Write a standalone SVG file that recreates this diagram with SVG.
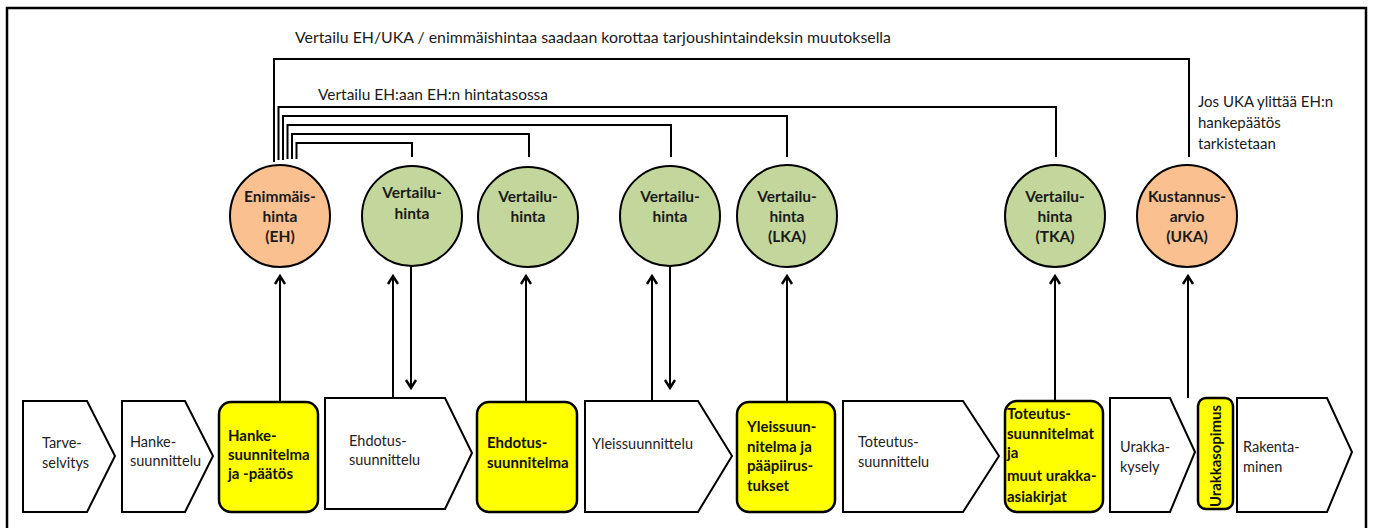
<svg xmlns="http://www.w3.org/2000/svg" width="1374" height="528" viewBox="0 0 1374 528">
<defs>
<style>
.frame{fill:none;stroke:#000;stroke-width:2.5}
.line{fill:none;stroke:#000;stroke-width:2}
.arrow{fill:none;stroke:#000;stroke-width:2;marker-end:url(#ah)}
.orange{fill:#FAC090;stroke:#000;stroke-width:2}
.green{fill:#C3D69B;stroke:#000;stroke-width:2}
.step{fill:#fff;stroke:#000;stroke-width:2;stroke-linejoin:miter}
.yel{fill:#FFFF00;stroke:#000;stroke-width:2.5}
.ct{font-family:Lato,"Liberation Sans",sans-serif;font-size:15.5px;font-weight:bold;fill:#1a1a1a;text-anchor:middle}
.bt{font-family:Lato,"Liberation Sans",sans-serif;font-size:15px;font-weight:bold;fill:#111}
.st{font-family:Lato,"Liberation Sans",sans-serif;font-size:14.5px;fill:#222}
.lab{font-family:Lato,"Liberation Sans",sans-serif;font-size:15px;fill:#1a1a1a}
</style>
<marker id="ah" viewBox="0 0 14 14" refX="10" refY="7" markerWidth="14" markerHeight="14" markerUnits="userSpaceOnUse" orient="auto">
<path d="M2,2 L10,7 L2,12" fill="none" stroke="#000" stroke-width="2.4"/>
</marker>
</defs>
<rect x="0" y="0" width="1374" height="528" fill="#fff"/>
<rect class="frame" x="7" y="8" width="1359" height="540"/>

<g id="labels">
<text class="lab" x="295" y="43" textLength="596" lengthAdjust="spacingAndGlyphs">Vertailu EH/UKA / enimmäishintaa saadaan korottaa tarjoushintaindeksin muutoksella</text>
<text class="lab" x="318" y="100" textLength="230" lengthAdjust="spacingAndGlyphs">Vertailu EH:aan EH:n hintatasossa</text>
<text class="lab" x="1198" y="107" font-size="14">Jos UKA ylittää EH:n</text>
<text class="lab" x="1198" y="128" font-size="14">hankepäätös</text>
<text class="lab" x="1198" y="149" font-size="14">tarkistetaan</text>
</g>

<g id="connectors">
<polyline class="line" points="274,162 274,59 1189,59 1189,157"/>
<polyline class="line" points="278.5,160 278.5,107 1056,107 1056,157"/>
<polyline class="line" points="283,160 283,116 787,116 787,157"/>
<polyline class="line" points="287.5,159 287.5,125 671,125 671,157"/>
<polyline class="line" points="292,159 292,134 529,134 529,157"/>
<polyline class="line" points="296.5,159 296.5,143 412,143 412,157"/>
<line class="arrow" x1="280" y1="401" x2="280" y2="276"/>
<line class="arrow" x1="393" y1="398" x2="393" y2="276"/>
<line class="arrow" x1="411" y1="266" x2="411" y2="388"/>
<line class="arrow" x1="526" y1="402" x2="526" y2="276"/>
<line class="arrow" x1="652" y1="401" x2="652" y2="276"/>
<line class="arrow" x1="670" y1="266" x2="670" y2="388"/>
<line class="arrow" x1="787" y1="402" x2="787" y2="276"/>
<line class="arrow" x1="1055" y1="401" x2="1055" y2="276"/>
<line class="arrow" x1="1188" y1="398" x2="1188" y2="276"/>
</g>

<g id="c-eh"><ellipse class="orange" cx="280" cy="216" rx="50" ry="51"/>
<text class="ct" x="280" y="202">Enimmäis-</text><text class="ct" x="280" y="222">hinta</text><text class="ct" x="280" y="242">(EH)</text></g>
<g id="c-v1"><ellipse class="green" cx="412" cy="216" rx="50" ry="50"/>
<text class="ct" x="412" y="198">Vertailu-</text><text class="ct" x="412" y="219">hinta</text></g>
<g id="c-v2"><ellipse class="green" cx="528" cy="217" rx="50" ry="50"/>
<text class="ct" x="528" y="202">Vertailu-</text><text class="ct" x="528" y="222">hinta</text></g>
<g id="c-v3"><ellipse class="green" cx="670" cy="216" rx="50" ry="50"/>
<text class="ct" x="670" y="202">Vertailu-</text><text class="ct" x="670" y="222">hinta</text></g>
<g id="c-lka"><ellipse class="green" cx="787" cy="216" rx="50" ry="51"/>
<text class="ct" x="787" y="202">Vertailu-</text><text class="ct" x="787" y="222">hinta</text><text class="ct" x="787" y="242">(LKA)</text></g>
<g id="c-tka"><ellipse class="green" cx="1055" cy="216" rx="50" ry="51"/>
<text class="ct" x="1055" y="202">Vertailu-</text><text class="ct" x="1055" y="222">hinta</text><text class="ct" x="1055" y="242">(TKA)</text></g>
<g id="c-uka"><ellipse class="orange" cx="1187" cy="216" rx="50" ry="51"/>
<text class="ct" x="1187" y="202">Kustannus-</text><text class="ct" x="1187" y="222">arvio</text><text class="ct" x="1187" y="242">(UKA)</text></g>

<g id="s-tarve"><polygon class="step" points="23,401 87,401 115,456 87,512 23,512"/>
<text class="st" x="42" y="448">Tarve-</text><text class="st" x="42" y="468">selvitys</text></g>
<g id="s-hanke"><polygon class="step" points="122,401 185,401 213,456 185,512 122,512"/>
<text class="st" x="130" y="447">Hanke-</text><text class="st" x="130" y="466">suunnittelu</text></g>
<g id="y-hanke"><rect class="yel" x="219" y="402" width="99" height="110" rx="12"/>
<text class="bt" x="228" y="441">Hanke-</text><text class="bt" x="228" y="460">suunnitelma</text><text class="bt" x="228" y="479">ja -päätös</text></g>
<g id="s-ehd"><polygon class="step" points="325,398 445,398 472,453 445,509 325,509"/>
<text class="st" x="349" y="446">Ehdotus-</text><text class="st" x="349" y="465">suunnittelu</text></g>
<g id="y-ehd"><rect class="yel" x="477" y="402" width="100" height="110" rx="12"/>
<text class="bt" x="487" y="448">Ehdotus-</text><text class="bt" x="487" y="468">suunnitelma</text></g>
<g id="s-yleis"><polygon class="step" points="585,401 698,401 732,456 698,512 585,512"/>
<text class="st" x="592" y="449">Yleissuunnittelu</text></g>
<g id="y-yleis"><rect class="yel" x="737" y="402" width="98" height="110" rx="12"/>
<text class="bt" x="747" y="432">Yleissuun-</text><text class="bt" x="747" y="452">nitelma ja</text><text class="bt" x="747" y="471">pääpiirus-</text><text class="bt" x="747" y="491">tukset</text></g>
<g id="s-tot"><polygon class="step" points="843,401 963,401 999,456 963,512 843,512"/>
<text class="st" x="858" y="447">Toteutus-</text><text class="st" x="858" y="467">suunnittelu</text></g>
<g id="y-tot"><rect class="yel" x="1005" y="401" width="98" height="111" rx="12"/>
<text class="bt" x="1007" y="419">Toteutus-</text><text class="bt" x="1007" y="439">suunnitelmat</text><text class="bt" x="1007" y="458">ja</text><text class="bt" x="1007" y="481">muut urakka-</text><text class="bt" x="1007" y="502">asiakirjat</text></g>
<g id="s-urakka"><polygon class="step" points="1110,398 1170,398 1195,452 1170,512 1110,512"/>
<text class="st" x="1120" y="452">Urakka-</text><text class="st" x="1120" y="472">kysely</text></g>
<g id="y-sopimus"><rect class="yel" x="1198" y="398" width="35" height="111" rx="8"/>
<text class="bt" transform="translate(1221,456) rotate(-90)" text-anchor="middle" textLength="102" lengthAdjust="spacingAndGlyphs">Urakkasopimus</text></g>
<g id="s-rak"><polygon class="step" points="1237,398 1327,398 1352,452 1327,512 1237,512"/>
<text class="st" x="1243" y="452">Rakenta-</text><text class="st" x="1243" y="472">minen</text></g>
</svg>
